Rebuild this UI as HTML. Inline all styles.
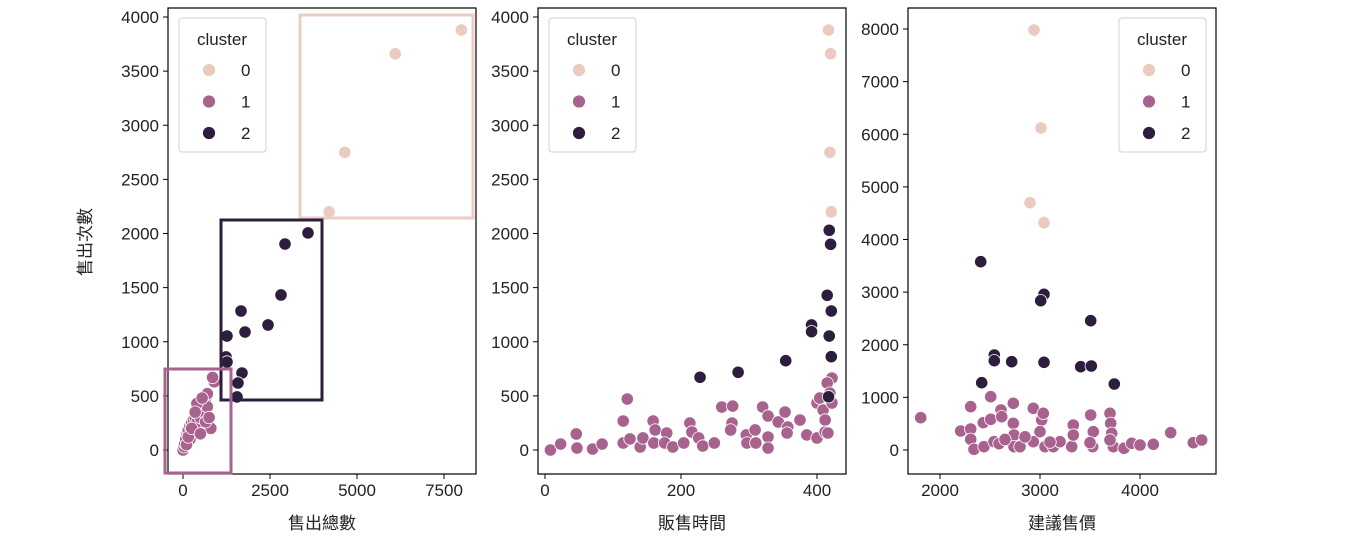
<!DOCTYPE html>
<html><head><meta charset="utf-8">
<style>
html,body{margin:0;padding:0;background:#fff;}
svg text{font-family:"Liberation Sans","Noto Sans CJK TC",sans-serif;fill:#222;}
</style></head>
<body>
<svg id="chart" width="1350" height="537" viewBox="0 0 1350 537" xmlns="http://www.w3.org/2000/svg"></svg>
<script>
// ---- data ----
const clusterColors = ["#ebcac0", "#a8628e", "#2d1e3e"];
const clusterLabels = ["0", "1", "2"];

// panel 1: 售出總數 vs 售出次數
const p1X0 = [4200, 4650, 6100, 8000];
const p1Y0 = [2200, 2750, 3660, 3880];
const p1X1 = [0,30,50,80,120,150,200,250,300,350,400,450,500,550,600,650,700,300,400,500,600,700,800,900,850,200,100,400,550,650,750,150,250,500,350];
const p1Y1 = [0,30,60,100,150,180,220,250,280,300,330,380,400,420,450,480,520,200,250,300,350,400,200,630,670,100,50,430,480,260,300,120,200,150,350];
const p1X2 = [1264,1236,1264,1667,1782,2443,2816,2931,3592,1695,1580,1552];
const p1Y2 = [1053,860,813,1284,1090,1155,1432,1903,2005,711,619,490];

// panel 2: 販售時間 vs 售出次數
const p2X0 = [417, 420, 419, 421];
const p2Y0 = [3880, 3660, 2750, 2200];
const p2X1 = [8,23,46,47,70,84,115,121,115,125,140,144,159,162,160,179,176,188,204,213,216,226,232,249,260,276,275,273,296,297,310,309,328,328,320,328,343,353,357,356,375,385,400,400,409,412,412,416,422,415,404,422,419];
const p2Y1 = [0,55,148,18,9,55,268,471,65,102,28,111,268,185,65,157,65,28,65,249,166,111,37,65,397,406,249,185,139,65,65,185,120,18,397,314,259,351,212,157,277,139,111,434,369,277,166,157,665,619,480,434,526];
const p2X2 = [228,284,354,392,392,415,421,418,421,417,418,420];
const p2Y2 = [672,718,825,1155,1093,1429,1284,1053,862,492,2030,1900];

// panel 3: 建議售價 vs 售出次數
const p3X0 = [2940, 3010, 2900, 3040];
const p3Y0 = [7980, 6120, 4700, 4320];
const p3X1 = [1807,2207,2307,2307,2307,2340,2433,2507,2507,2440,2540,2610,2617,2733,2733,2740,2740,2800,2933,3017,3033,2933,3000,3050,3133,3200,3317,3333,3333,3507,3533,3527,3500,3700,3707,3717,3733,3700,3840,3917,4000,4133,4307,4533,4617,2590,2650,2850,3100];
const p3Y1 = [614,361,823,399,203,13,519,1013,583,63,158,760,633,887,507,285,63,63,792,570,697,158,348,63,63,158,63,475,285,665,348,63,139,697,507,317,63,190,32,127,95,108,329,139,190,120,200,250,150];
const p3X2 = [2407,2417,2543,2543,2717,3040,3007,3040,3407,3513,3507,3743];
const p3Y2 = [3578,1279,1805,1697,1678,2958,2837,1666,1583,1596,2457,1254];

const p1XTicks = [0, 2500, 5000, 7500];
const p1YTicks = [0, 500, 1000, 1500, 2000, 2500, 3000, 3500, 4000];
const p2XTicks = [0, 200, 400];
const p2YTicks = [0, 500, 1000, 1500, 2000, 2500, 3000, 3500, 4000];
const p3XTicks = [2000, 3000, 4000];
const p3YTicks = [0, 1000, 2000, 3000, 4000, 5000, 6000, 7000, 8000];

// ---- drawing ----
const NS = "http://www.w3.org/2000/svg";
const svg = document.getElementById("chart");
function mk(tag, attrs, parent) {
  const e = document.createElementNS(NS, tag);
  for (const k in attrs) e.setAttribute(k, attrs[k]);
  (parent || svg).appendChild(e);
  return e;
}
function linScale(d0, d1, r0, r1) { return v => r0 + (v - d0) * (r1 - r0) / (d1 - d0); }

const axTop = 8, axBottom = 474;
const panels = [
  {name:"total-sold", left:168, right:476, x:linScale(0,2500,183,270), y:linScale(0,4000,450,17),
   xt:p1XTicks, yt:p1YTicks, xl:"售出總數", series:[[p1X0,p1Y0],[p1X1,p1Y1],[p1X2,p1Y2]], legendX:179},
  {name:"sale-days", left:538, right:846, x:linScale(0,200,545,681), y:linScale(0,4000,450,17),
   xt:p2XTicks, yt:p2YTicks, xl:"販售時間", series:[[p2X0,p2Y0],[p2X1,p2Y1],[p2X2,p2Y2]], legendX:549},
  {name:"suggested-price", left:908, right:1216, x:linScale(2000,3000,940,1040), y:linScale(0,8000,450,29),
   xt:p3XTicks, yt:p3YTicks, xl:"建議售價", series:[[p3X0,p3Y0],[p3X1,p3Y1],[p3X2,p3Y2]], legendX:1119}
];

panels.forEach((p, pi) => {
  const g = mk("g", {});
  
  
  [1, 2, 0].forEach(c => {
    const [xs, ys] = p.series[c];
    const sg = mk("g", {}, g);
    
    
    xs.forEach((xv, i) => {
      const pt = mk("circle", {cx:p.x(xv), cy:p.y(ys[i]), r:6.2, fill:clusterColors[c], stroke:"#fff", "stroke-width":0.8}, sg);
      
      
    });
  });
  const fr = mk("rect", {x:p.left, y:axTop, width:p.right-p.left, height:axBottom-axTop, fill:"none", stroke:"#000", "stroke-width":1.2}, g);
  
  
  p.yt.forEach(t => {
    const yy = p.y(t);
    mk("line", {x1:p.left-5, x2:p.left, y1:yy, y2:yy, stroke:"#000", "stroke-width":1}, g);
    const tx = mk("text", {x:p.left-9, y:yy+6, "text-anchor":"end", "font-size":17}, g);
    tx.textContent = t;
    
    
  });
  p.xt.forEach(t => {
    const xx = p.x(t);
    mk("line", {x1:xx, x2:xx, y1:axBottom, y2:axBottom+5, stroke:"#000", "stroke-width":1}, g);
    const tx = mk("text", {x:xx, y:axBottom+22, "text-anchor":"middle", "font-size":17}, g);
    tx.textContent = t;
    
    
  });
  const xl = mk("text", {x:(p.left+p.right)/2, y:529, "text-anchor":"middle", "font-size":17}, g);
  xl.textContent = p.xl;
  
  
  const lg = mk("g", {}, g);
  
  
  mk("rect", {x:p.legendX, y:18, width:87, height:134, rx:3, fill:"#fff", "fill-opacity":0.85, stroke:"#d0d0d0"}, lg);
  const lt = mk("text", {x:p.legendX+43, y:45, "text-anchor":"middle", "font-size":17}, lg);
  lt.textContent = "cluster";
  
  
  clusterLabels.forEach((lab, c) => {
    const yy = 70 + c * 31.5;
    const m = mk("circle", {cx:p.legendX+30, cy:yy, r:6.5, fill:clusterColors[c], stroke:"#fff", "stroke-width":0.8}, lg);
    
    
    const t = mk("text", {x:p.legendX+62, y:yy+6, "text-anchor":"start", "font-size":17}, lg);
    t.textContent = lab;
    
    
  });
});

const rects = [
  {x:300, y:15, w:173, h:203, c:"#ebcdc5", n:"cluster-0-box"},
  {x:221, y:220, w:101, h:180, c:"#2d1e3e", n:"cluster-2-box"},
  {x:165, y:369, w:66, h:104, c:"#a8628e", n:"cluster-1-box"}
];
rects.forEach(r => {
  const e = mk("rect", {x:r.x, y:r.y, width:r.w, height:r.h, fill:"none", stroke:r.c, "stroke-width":3});
  
  
});

const yl = mk("text", {x:0, y:0, "text-anchor":"middle", "font-size":17, transform:"translate(91,242) rotate(-90)"});
yl.textContent = "售出次數";


</script>
</body></html>
